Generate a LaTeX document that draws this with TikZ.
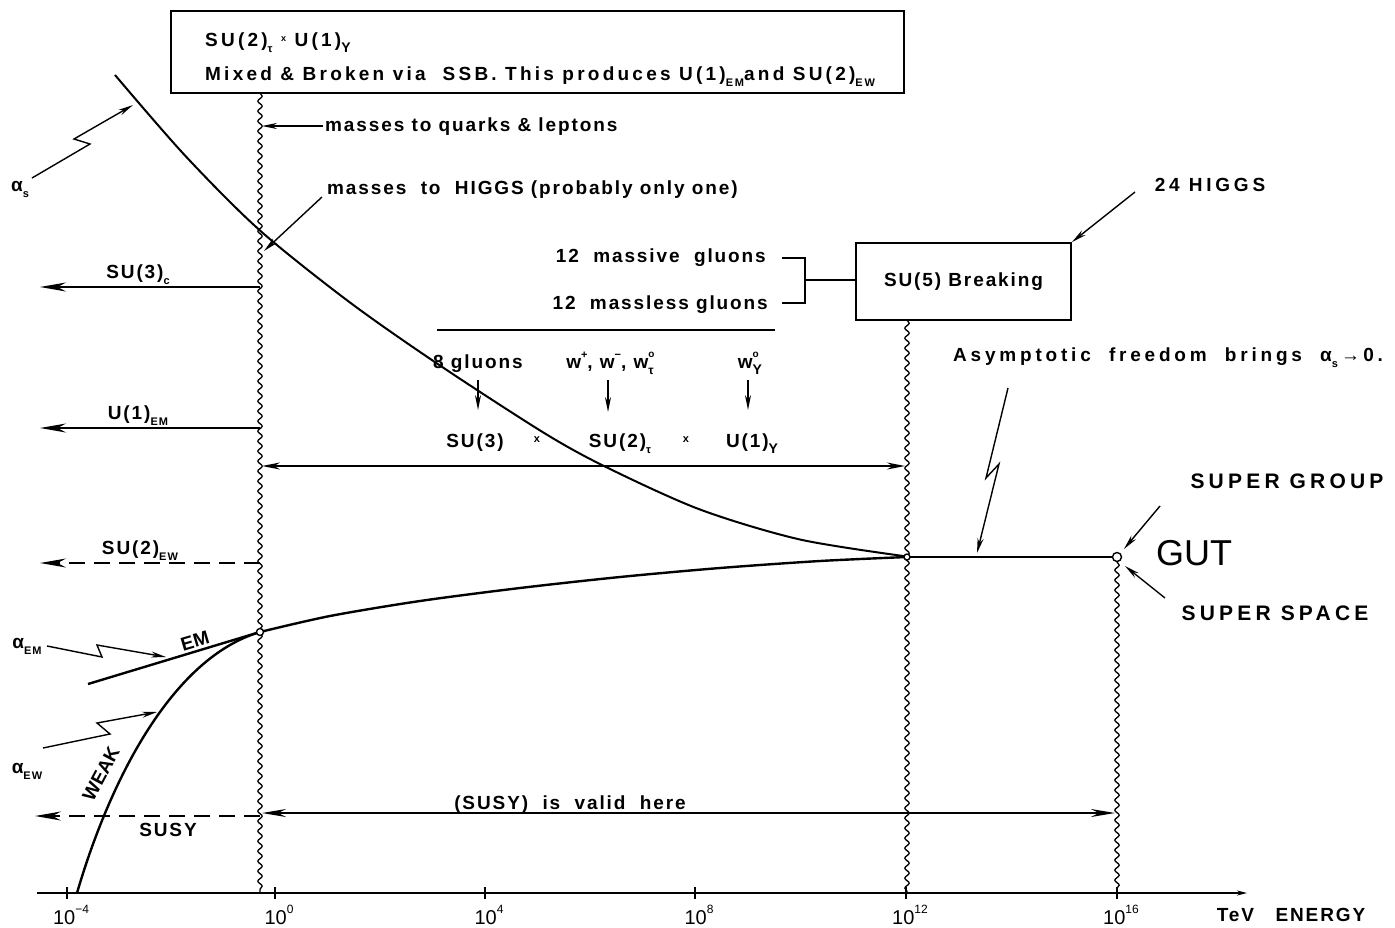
\documentclass[tikz,border=0pt]{standalone}
\usepackage{fontspec}
\setmainfont{Liberation Sans}
\newfontfamily\labfont{Liberation Sans}[LetterSpace=10]
\newfontfamily\widefont{Liberation Sans}[LetterSpace=20]
\newfontfamily\boxfont{Liberation Sans}[LetterSpace=17]
\usetikzlibrary{arrows.meta,decorations.pathmorphing}
\newcommand{\mysub}[1]{\raisebox{-0.35em}{\fontsize{11}{11}\selectfont #1}}
\newcommand{\mysup}[1]{\raisebox{0.5em}{\fontsize{11}{11}\selectfont #1}}
\newcommand{\mysupsub}[2]{\rlap{\raisebox{0.55em}{\fontsize{10}{10}\selectfont #1}}\raisebox{-0.35em}{\fontsize{12}{12}\selectfont #2}}
\newcommand{\tenp}[1]{10\raisebox{0.55em}{\fontsize{12}{12}\selectfont #1}}
\newcommand{\smx}{\raisebox{0.25em}{\fontsize{9}{9}\selectfont x}}
\begin{document}
\begin{tikzpicture}[x=1pt,y=-1pt,
  lab/.style={font=\labfont\bfseries\fontsize{19}{19}\selectfont, inner sep=0pt},
  plainlab/.style={font=\bfseries\fontsize{19}{19}\selectfont, inner sep=0pt},
  wide/.style={font=\widefont\bfseries\fontsize{19}{19}\selectfont, inner sep=0pt},
  boxtxt/.style={font=\boxfont\bfseries\fontsize{19}{19}\selectfont, inner sep=0pt},
  num/.style={font=\fontsize{20}{20}\selectfont, inner sep=0pt},
  heavy/.style={line width=2.4pt},
  thinl/.style={line width=1.5pt},
  wavy/.style={decorate, decoration={snake, segment length=10pt, amplitude=2.2pt}, line width=1.3pt},
  bigarrow/.style={line width=1.6pt, -{Stealth[length=26pt,width=9pt]}},
  smallarrow/.style={line width=1.4pt, -{Stealth[length=15pt,width=6pt]}},
  dblarrow/.style={line width=1.6pt, {Stealth[length=18pt,width=7pt]}-{Stealth[length=18pt,width=7pt]}},
  boxed/.style={draw, line width=1.8pt, inner sep=0pt},
  dashedl/.style={dash pattern=on 16pt off 9pt},
  dot/.style={circle, draw, line width=1.4pt, fill=white, inner sep=0pt, minimum size=7pt}
]
\useasboundingbox (0,0) rectangle (1395,927);

% top box
\node[boxed, minimum width=733pt, minimum height=82pt] (topbox) at (537.5,52) {};
\node[boxtxt, anchor=base west] (tb1) at (205,46) {SU(2)\mysub{τ} \smx{} U(1)\mysub{\fontsize{14}{14}\selectfont Y}};
\node[boxtxt, anchor=base west] (tb2) at (205,80) {Mixed \& Broken via\ \ SSB. This produces U(1)\mysub{EM}and SU(2)\mysub{EW}};

% SU(5) box
\node[boxed, minimum width=215pt, minimum height=77pt, lab] (su5) at (963.5,281.5) {SU(5)\ Breaking};

% axis
\coordinate (ax0) at (37,893);
\coordinate (ax1) at (1247,893);
\draw[heavy, -{Stealth[length=10pt,width=5pt]}] (ax0) -- (ax1);
\foreach \xx/\lb/\nm in {67/{\tenp{−4}}/tm4, 275/{\tenp{0}}/t0, 485/{\tenp{4}}/t4, 695/{\tenp{8}}/t8, 906/{\tenp{12}}/t12, 1117/{\tenp{16}}/t16}{
  \draw[thinl] (\xx,887) -- (\xx,899);
  \node[num] (\nm) at (\xx+4,915) {\lb};
}
\node[lab] (energy) at (1291,915) {TeV\ \ \ ENERGY};

% wavy lines
\coordinate (w1t) at (260,93);
\coordinate (w1b) at (260,893);
\coordinate (w2t) at (907,320);
\coordinate (w2b) at (907,893);
\coordinate (w3t) at (1117,562);
\coordinate (w3b) at (1117,893);
\draw[wavy] (w1t) -- (w1b);
\draw[wavy] (w2t) -- (w2b);
\draw[wavy] (w3t) -- (w3b);

% alpha_s curve
\draw[line width=2pt] plot[smooth, tension=0.5] coordinates {(115,75) (185,155.5) (260,230.5) (350,302.5) (440,365.5) (545,433.5) (607,467.5) (700,509.5) (800,539.5) (907,556.5)};
% unified lower curve
\draw[heavy] plot[smooth, tension=0.5] coordinates {(260,632) (330,616) (420,601) (520,588) (620,577) (720,568) (820,561) (907,557)};
% EM line
\coordinate (em0) at (88,684);
\coordinate (em1) at (260,632);
\draw[heavy] (em0) -- (em1);
% WEAK curve
\coordinate (wk0) at (77,893);
\draw[heavy] (wk0) .. controls (110,780) and (172,658) .. (em1);
% GUT line
\coordinate (g0) at (907,557);
\coordinate (g1) at (1117,557);
\draw[heavy] (g0) -- (g1);
\node[dot] (p1) at (260,632) {};
\node[dot, minimum size=6pt] (p2) at (907,557) {};
\node[dot, minimum size=9pt] (p3) at (1117,557) {};

\node[plainlab, rotate=16.5] (emlab) at (195,641) {EM};
\node[plainlab, rotate=62] (weaklab) at (101,774) {WEAK};

% left arrows
\coordinate (a1s) at (260,287); \coordinate (a1e) at (40,287);
\draw[bigarrow] (a1s) -- (a1e);
\node[lab, anchor=base] (su3c) at (138,278) {SU(3)\mysub{c}};
\coordinate (a2s) at (260,428); \coordinate (a2e) at (40,428);
\draw[bigarrow] (a2s) -- (a2e);
\node[lab, anchor=base] (u1em) at (138,419) {U(1)\mysub{EM}};
\coordinate (a3s) at (260,563); \coordinate (a3e) at (40,563);
\draw[bigarrow, dashedl] (a3s) -- (a3e);
\node[lab, anchor=base] (su2ew) at (140,554) {SU(2)\mysub{EW}};
\coordinate (a4s) at (260,816); \coordinate (a4e) at (35,816);
\draw[bigarrow, dashedl] (a4s) -- (a4e);
\node[lab, anchor=base] (susy) at (168,836) {SUSY};

% SUSY valid double arrow
\coordinate (d1s) at (262,813); \coordinate (d1e) at (1115,813);
\draw[line width=1.6pt, {Stealth[length=24pt,width=8pt]}-{Stealth[length=24pt,width=8pt]}] (d1s) -- (d1e);
\node[lab, anchor=base] (valid) at (570,809) {(SUSY)\ \ is\ \ valid\ \ here};

% double arrow at 466
\coordinate (d2s) at (262,466); \coordinate (d2e) at (905,466);
\draw[dblarrow] (d2s) -- (d2e);

% masses labels
\node[lab, anchor=base west] (mql) at (325,131) {masses\ to\ quarks \& leptons};
\coordinate (mqs) at (323,126);
\coordinate (mqe) at (262,126);
\draw[smallarrow] (mqs) -- (mqe);
\node[lab, anchor=base west] (mhl) at (327,194) {masses\ \ to\ \ HIGGS (probably only one)};
\coordinate (mhs) at (322,197); \coordinate (mhe) at (264,251);
\draw[smallarrow] (mhs) -- (mhe);

% gluons
\node[lab, anchor=base east] (g12a) at (766,262) {12\ \ massive\ \ gluons};
\node[lab, anchor=base east] (g12b) at (768,309) {12\ \ massless gluons};
\coordinate (hl0) at (437,330); \coordinate (hl1) at (775,330);
\draw[line width=2pt] (hl0) -- (hl1);
\coordinate (br1) at (782,258); \coordinate (br2) at (805,258);
\coordinate (br3) at (805,303); \coordinate (br4) at (782,303);
\coordinate (brm) at (805,280);
\draw[line width=1.8pt] (br1) -- (br2) -- (br3) -- (br4);
\draw[line width=1.8pt] (brm) -- (su5.west |- brm);

\node[lab, anchor=base] (gl8) at (478,368) {8 gluons};
\node[lab, anchor=base] (gw) at (610,368) {w\mysup{+}, w\mysup{−}, w\mysupsub{o}{τ}};
\node[lab, anchor=base] (gwy) at (750,368) {w\mysupsub{o}{\fontsize{14}{14}\selectfont Y}};
\node[lab, anchor=base] (gsu3) at (475,447) {SU(3)};
\node[lab, anchor=base] (gx1) at (537,442) {\fontsize{11}{11}\selectfont x};
\node[lab, anchor=base] (gsu2) at (620,447) {SU(2)\mysub{τ}};
\node[lab, anchor=base] (gx2) at (686,442) {\fontsize{11}{11}\selectfont x};
\node[lab, anchor=base] (gu1) at (752,447) {U(1)\mysub{\fontsize{14}{14}\selectfont Y}};
\coordinate (ar1s) at (478,380); \coordinate (ar1e) at (478,410);
\coordinate (ar2s) at (608,380); \coordinate (ar2e) at (608,412);
\coordinate (ar3s) at (748,380); \coordinate (ar3e) at (748,410);
\draw[smallarrow] (ar1s) -- (ar1e);
\draw[smallarrow] (ar2s) -- (ar2e);
\draw[smallarrow] (ar3s) -- (ar3e);

% 24 HIGGS
\node[wide, anchor=base] (h24) at (1210,191) {24\ HIGGS};
\coordinate (h24s) at (1135,192);
\draw[smallarrow] (h24s) -- (su5.north east);

% asymptotic freedom
\node[wide, anchor=base west] (asym) at (953,361) {Asymptotic\ \ freedom\ \ brings\ \ α\mysub{s}\,→\,0.};
\coordinate (l1a) at (1008,388); \coordinate (l1b) at (986,478);
\coordinate (l1c) at (999,464); \coordinate (l1d) at (977,553);
\draw[smallarrow] (l1a) -- (l1b) -- (l1c) -- (l1d);

% GUT labels
\node[wide, anchor=base, font=\widefont\bfseries\fontsize{21}{21}\selectfont] (sgroup) at (1287,488) {SUPER GROUP};
\node[anchor=base west, inner sep=0pt, font=\fontsize{36}{36}\selectfont] (gut) at (1156,565) {GUT};
\node[wide, anchor=base, font=\widefont\bfseries\fontsize{21}{21}\selectfont] (sspace) at (1275,620) {SUPER SPACE};
\coordinate (sg0) at (1160,506); \coordinate (sg1) at (1124,549);
\coordinate (ss0) at (1165,598); \coordinate (ss1) at (1125,566);
\draw[smallarrow] (sg0) -- (sg1);
\draw[smallarrow] (ss0) -- (ss1);

% alpha labels with lightning arrows
\node[lab, anchor=base] (als) at (20,191) {α\mysub{s}};
\coordinate (ls1) at (32,178); \coordinate (ls2) at (90,144);
\coordinate (ls3) at (74,139); \coordinate (ls4) at (133,105);
\draw[smallarrow] (ls1) -- (ls2) -- (ls3) -- (ls4);
\node[lab, anchor=base] (alem) at (27,648) {α\mysub{EM}};
\coordinate (le1) at (47,646); \coordinate (le2) at (102,657);
\coordinate (le3) at (97,645); \coordinate (le4) at (166,657);
\draw[smallarrow] (le1) -- (le2) -- (le3) -- (le4);
\node[lab, anchor=base] (alew) at (27,773) {α\mysub{EW}};
\coordinate (lw1) at (43,748); \coordinate (lw2) at (110,734);
\coordinate (lw3) at (97,723); \coordinate (lw4) at (157,712);
\draw[smallarrow] (lw1) -- (lw2) -- (lw3) -- (lw4);
\end{tikzpicture}
\end{document}
